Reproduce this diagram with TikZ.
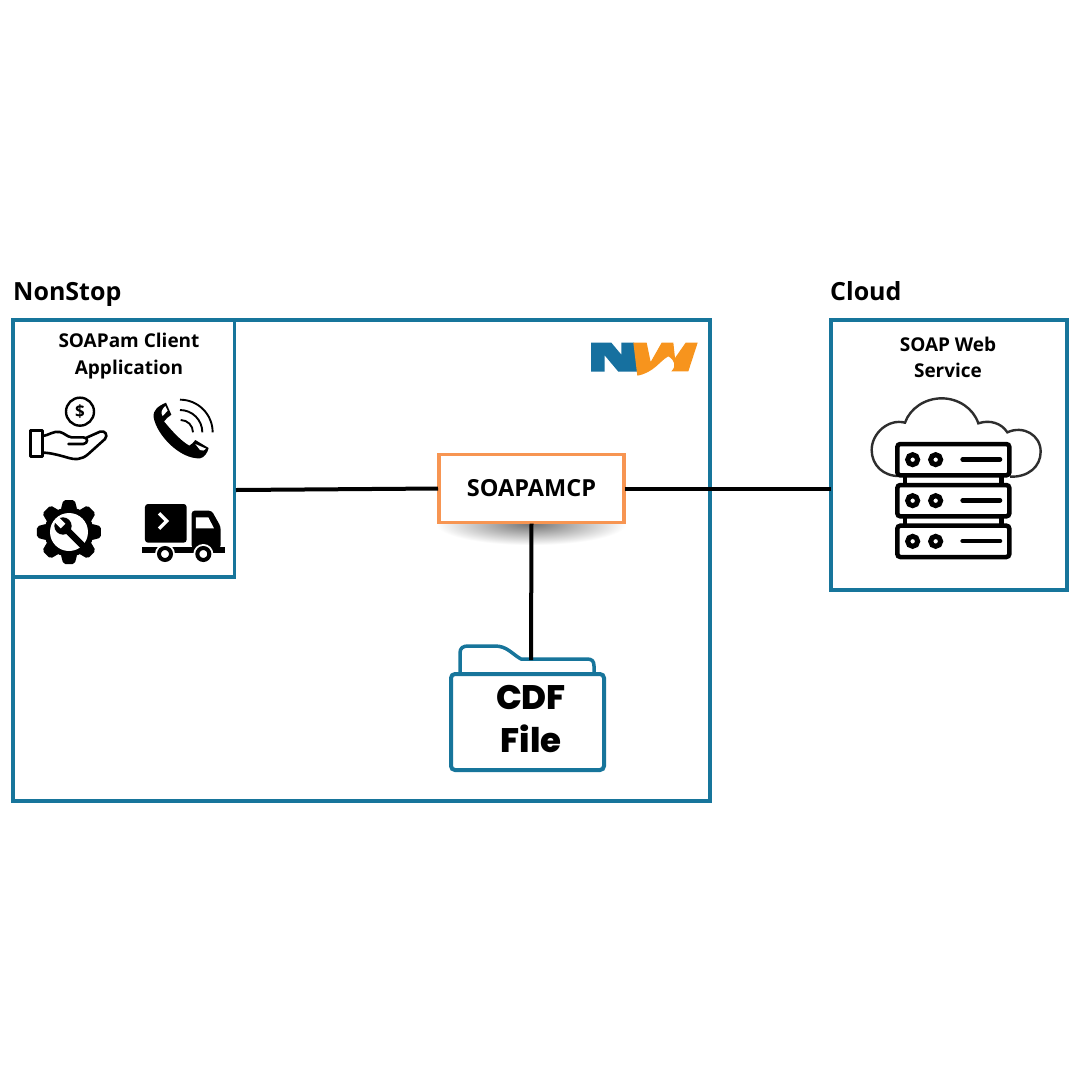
\documentclass[tikz,border=0pt]{standalone}
\usepackage{fontspec}
\setmainfont{Open Sans}
\newfontfamily\heavy{Poppins}[BoldFont={Poppins ExtraBold}]
\definecolor{tealb}{HTML}{17759B}
\definecolor{orb}{HTML}{F79552}
\definecolor{logob}{HTML}{16709F}
\definecolor{logoo}{HTML}{F7941D}
\definecolor{dk}{HTML}{2E2E2E}
\tikzset{
 frame/.style={draw=tealb,line width=3.5pt,fill=none,inner sep=0,outer sep=0},
 wire/.style={draw=black,line width=4pt},
 lab/.style={font=\bfseries,fill=none,inner sep=0,align=center},
 srv/.style={draw=black,line width=4.5pt,rounded corners=3pt,fill=white},
}
\begin{document}
\begin{tikzpicture}[x=1pt,y=-1pt]
\useasboundingbox (0,0) rectangle (1080,1080);
\fill[white] (0,0) rectangle (1080,1080);
% frames
\node[frame,minimum width=697pt,minimum height=481pt] (main) at (361.5,560.5) {};
\node[frame,minimum width=221.5pt,minimum height=257pt] (client) at (123.75,448.5) {};
\node[frame,minimum width=236pt,minimum height=270pt] (cloudbox) at (949,455) {};
% headings
\node[lab,anchor=base west,font=\bfseries\fontsize{25}{28}\selectfont] (nonstop) at (13,300) {NonStop};
\node[lab,anchor=base west,font=\bfseries\fontsize{25}{28}\selectfont] (cloudlab) at (830,300) {Cloud};
\node[lab,font=\bfseries\fontsize{19}{26.5}\selectfont] (clientlab) at (129,356) {SOAPam Client\\Application};
\node[lab,font=\bfseries\fontsize{19}{26}\selectfont] (soaplab) at (948,357) {SOAP Web\\Service};
% shadow
\shade[inner color=black!55,outer color=white] (436,503) rectangle (626,545);
\fill[white] (430,545) rectangle (632,548);
% folder
\path[draw=tealb,line width=3.5pt,line join=round,fill=white]
 (460,673) -- (460,653) .. controls (460,648) and (463,646) .. (468,646)
 -- (495,646) .. controls (507,646) and (512,654) .. (521,659)
 -- (587,659) .. controls (592,659) and (594,661) .. (594,666) -- (594,673);
\node[draw=tealb,line width=4pt,fill=white,rounded corners=4pt,minimum width=153pt,minimum height=96pt,inner sep=0] (folder) at (527.5,722) {};
\node[lab,font=\heavy\bfseries\fontsize{34}{43}\selectfont] (cdf) at (531,719) {CDF\\File};
\coordinate (foldertop) at (531,660);
\coordinate (clientport) at (236,490);
% SOAPAMCP
\node[draw=orb,line width=3.5pt,fill=white,minimum width=185pt,minimum height=68pt,inner sep=0,outer sep=1pt,font=\bfseries\fontsize{23.5}{26}\selectfont] (mcp) at (531.5,488.5) {SOAPAMCP};
% connectors
\draw[wire] (clientport) -- (mcp.west);
\draw[wire] (mcp.east) -- (cloudbox.west |- mcp.east);
\draw[wire] (mcp.south) -- (foldertop);
% logo
\begin{scope}[shift={(580,330)},scale=1/3]
 \fill[logob] (33,38) -- (94,38) -- (124,74) -- (124,38) -- (162,38) -- (172,125) -- (115,125) -- (74,76) -- (74,125) -- (33,125) -- cycle;
 \fill[logoo] (160,38) -- (200,38) -- (212,96) -- (245,38) -- (280,38) -- (285,84) -- (317,38) -- (353,38)
   -- (325,124) -- (274,124) .. controls (290,108) and (284,90) .. (265,79)
   .. controls (240,92) and (222,128) .. (172,137) -- cycle;
\end{scope}
% hand with coin
\begin{scope}[shift={(10,380)},scale=1/3]
 \draw[line width=2.4pt] (210,95) circle[radius=42];
 \node[font=\bfseries\fontsize{17}{17}\selectfont] (dollar) at (210,95) {\$};
 \draw[line width=2.6pt,line join=round,fill=white] (62,152) rectangle (97,230);
 \draw[line width=2.6pt,line join=round,line cap=round]
  (97,168) .. controls (120,165) and (130,152) .. (150,156)
  .. controls (165,160) and (170,170) .. (185,172) -- (220,172)
  .. controls (235,172) and (235,190) .. (220,192) -- (175,192)
  (225,175) -- (270,155) .. controls (285,150) and (295,165) .. (285,177)
  -- (235,222) .. controls (215,240) and (195,240) .. (170,232)
  .. controls (145,225) and (120,218) .. (97,218);
 % phone
 \draw[line width=1.9pt] (510,59) arc[start angle=-90,end angle=0,radius=98];
 \draw[line width=1.9pt] (510,90) arc[start angle=-90,end angle=0,radius=67];
 \draw[line width=1.9pt] (512,120) arc[start angle=-90,end angle=0,radius=37];
 \fill[black] (468,68) .. controls (445,78) and (428,90) .. (431,112)
  .. controls (440,165) and (510,238) .. (570,235)
  .. controls (582,233) and (592,220) .. (596,204)
  -- (556,180) .. controls (550,188) and (545,193) .. (538,197)
  .. controls (510,182) and (475,140) .. (462,124)
  .. controls (468,116) and (476,110) .. (484,104) -- cycle;
 \fill[white] (466,78) -- (473,92) -- (458,108) .. controls (452,100) and (454,88) .. (466,78) -- cycle;
 \fill[white] (556,192) -- (588,206) .. controls (584,212) and (577,214) .. (570,210) -- cycle;
 % gear
 \begin{scope}[shift={(177,456)}]
  \fill[black] (0,0) circle[radius=74];
  \foreach \a in {0,45,...,315}{
   \fill[black,rotate=\a,rounded corners=2pt] (-25,-66) -- (-17,-96) -- (17,-96) -- (25,-66) -- cycle;
  }
  \fill[white] (0,0) circle[radius=57];
  \begin{scope}
   \clip (0,0) circle[radius=60];
   \draw[black,line width=6.7pt] (-15,-15) -- (55,55);
  \end{scope}
  \fill[black] (-18,-18) circle[radius=26];
  \fill[white,rotate around={45:(-18,-18)}] (-28,-18) rectangle (-8,-48);
 \end{scope}
 % truck
 \fill[black,rounded corners=3pt] (405,372) rectangle (530,488);
 \draw[white,line width=3.4pt] (447,400) -- (470,423) -- (447,446);
 \fill[black,rounded corners=3pt] (545,392) -- (605,392) -- (632,440) -- (632,505) -- (545,505) -- cycle;
 \fill[white] (558,412) -- (595,412) -- (612,445) -- (558,445) -- cycle;
 \fill[black] (395,500) rectangle (645,518);
 \fill[white] (465,522) circle[radius=30];
 \fill[white] (580,522) circle[radius=30];
 \draw[black,line width=4pt] (465,522) circle[radius=18];
 \draw[black,line width=4pt] (580,522) circle[radius=18];
\end{scope}
% cloud + servers
\begin{scope}[shift={(850,380)},scale=1/3]
 \draw[draw=dk,line width=2.4pt,fill=white]
  (150,288) .. controls (100,290) and (65,255) .. (65,210)
  .. controls (65,160) and (115,115) .. (165,128)
  .. controls (180,85) and (225,55) .. (275,55)
  .. controls (325,55) and (370,85) .. (385,130)
  .. controls (420,118) and (455,130) .. (472,157)
  .. controls (520,135) and (572,165) .. (572,215)
  .. controls (572,260) and (535,292) .. (480,290);
 \fill[black] (158,288) rectangle (172,315);
 \fill[black] (448,288) rectangle (462,315);
 \fill[black] (158,408) rectangle (172,437);
 \fill[black] (448,408) rectangle (462,437);
 \foreach \y in {192,315,437}{
  \draw[srv] (142,\y) rectangle (478,\y+94);
  \draw[line width=5pt] (188,\y+47) circle[radius=15];
  \draw[line width=5pt] (257,\y+47) circle[radius=15];
  \draw[line width=4.6pt,line cap=round] (338,\y+46) -- (450,\y+46);
 }
\end{scope}
\end{tikzpicture}
\end{document}
